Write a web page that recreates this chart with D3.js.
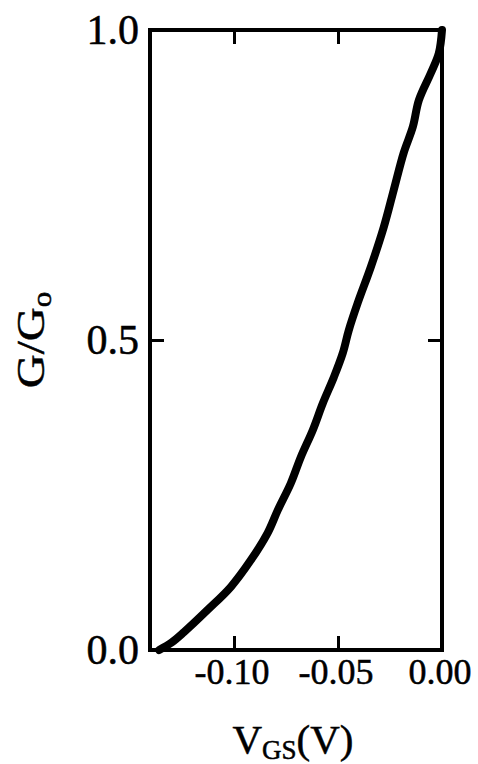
<!DOCTYPE html>
<html>
<head>
<meta charset="utf-8">
<script src="https://cdn.jsdelivr.net/npm/d3@7"></script>
<style>
  html, body { margin: 0; padding: 0; background: #fff; }
  svg { display: block; }
  text { font-family: "Liberation Serif", "Times New Roman", serif; fill: #000; stroke: #000; stroke-width: 0.5px; }
</style>
</head>
<body>
<svg id="chart" width="478" height="764"></svg>
<script>
// ---- data ----
const vgs = [-0.136, -0.130, -0.124, -0.1126, -0.1015, -0.0919, -0.0838, -0.0789, -0.0727, -0.0679,
             -0.0621, -0.0573, -0.052, -0.0477, -0.0448, -0.0405, -0.0342, -0.028, -0.0232, -0.0184,
             -0.014, -0.0111, -0.0053, -0.0015, 0.0];
const gRatio = [0.0, 0.012, 0.029, 0.065, 0.102, 0.145, 0.189, 0.226, 0.269, 0.311,
                0.355, 0.398, 0.44, 0.479, 0.516, 0.56, 0.618, 0.682, 0.742, 0.802,
                0.844, 0.887, 0.931, 0.963, 1.0];
const xTicks = [-0.10, -0.05, 0.00];
const xTickLabels = ["-0.10", "-0.05", "0.00"];
const yTicks = [0.0, 0.5, 1.0];
const yTickLabels = ["0.0", "0.5", "1.0"];

// ---- layout ----
const mLeft = 150, mRight = 442, mTop = 30, mBottom = 650;
const svg = d3.select("#chart");

const x = d3.scaleLinear().domain([-0.1404, 0.0]).range([mLeft, mRight]);
const y = d3.scaleLinear().domain([0, 1]).range([mBottom, mTop]);

// ticks (inward) via d3 axes
const tickLen = 14;
function styleAxis(g) {
  g.select(".domain").remove();
  g.selectAll(".tick line").attr("stroke", "#000").attr("stroke-width", 3);
}
svg.append("g").attr("transform", `translate(0,${mBottom})`)
  .call(d3.axisBottom(x).tickValues(xTicks.slice(0, 2)).tickSizeInner(-tickLen).tickSizeOuter(0).tickFormat(""))
  .call(styleAxis);
svg.append("g").attr("transform", `translate(0,${mTop})`)
  .call(d3.axisTop(x).tickValues(xTicks.slice(0, 2)).tickSizeInner(-tickLen).tickSizeOuter(0).tickFormat(""))
  .call(styleAxis);
svg.append("g").attr("transform", `translate(${mLeft},0)`)
  .call(d3.axisLeft(y).tickValues([0.5]).tickSizeInner(-tickLen).tickSizeOuter(0).tickFormat(""))
  .call(styleAxis);
svg.append("g").attr("transform", `translate(${mRight},0)`)
  .call(d3.axisRight(y).tickValues([0.5]).tickSizeInner(-tickLen).tickSizeOuter(0).tickFormat(""))
  .call(styleAxis);

// frame
svg.append("rect")
  .attr("x", mLeft).attr("y", mTop)
  .attr("width", mRight - mLeft).attr("height", mBottom - mTop)
  .attr("fill", "none").attr("stroke", "#000").attr("stroke-width", 4);

// tick labels
svg.append("g").selectAll("text").data(xTicks).join("text")
  .attr("x", (d) => x(d) - 2)
  .attr("y", mBottom + 34)
  .attr("text-anchor", "middle")
  .attr("font-size", 36)
  .text((d, i) => xTickLabels[i]);

svg.append("g").selectAll("text").data(yTicks).join("text")
  .attr("x", mLeft - 11)
  .attr("y", (d) => y(d))
  .attr("dy", "0.33em")
  .attr("text-anchor", "end")
  .attr("font-size", 42)
  .text((d, i) => yTickLabels[i]);

// curve
const line = d3.line().x((d, i) => x(vgs[i])).y((d) => y(d)).curve(d3.curveCatmullRom);
svg.append("path")
  .datum(gRatio)
  .attr("d", line)
  .attr("fill", "none")
  .attr("stroke", "#000")
  .attr("stroke-width", 8)
  .attr("stroke-linecap", "round")
  .attr("stroke-linejoin", "round");

// axis titles
const xt = svg.append("text")
  .attr("x", (mLeft + mRight) / 2 - 3)
  .attr("y", 753)
  .attr("text-anchor", "middle")
  .attr("font-size", 41);
xt.append("tspan").text("V");
xt.append("tspan").attr("font-size", 27).attr("dy", 6).text("GS");
xt.append("tspan").attr("dy", -6).text("(V)");

const yt = svg.append("g").attr("transform", `translate(44,340) scale(1,1.15) rotate(-90)`)
  .append("text")
  .attr("text-anchor", "middle")
  .attr("font-size", 41);
yt.append("tspan").text("G/G");
yt.append("tspan").attr("font-size", 27).attr("dy", 7).text("o");
</script>
</body>
</html>
